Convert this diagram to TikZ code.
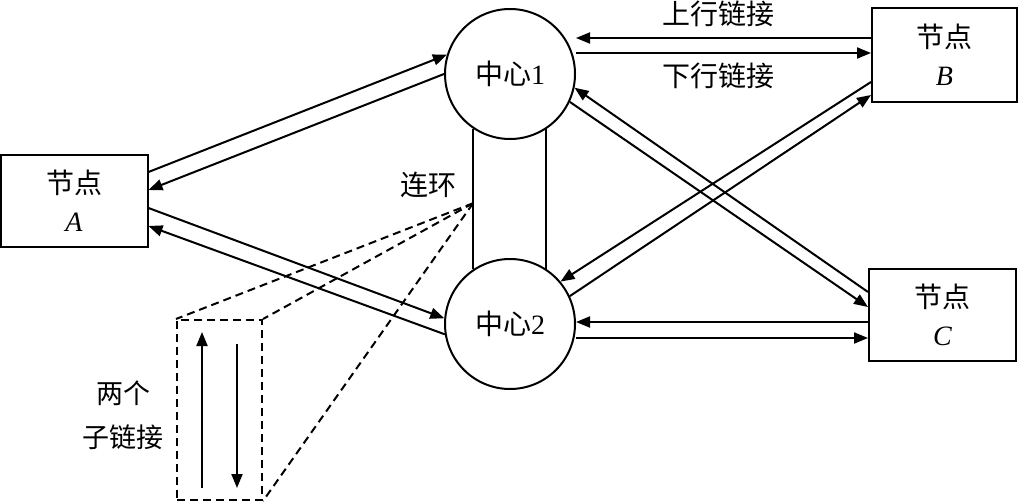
\documentclass[tikz,border=0pt]{standalone}
\usepackage{fontspec}
\setmainfont{Liberation Serif}
\newfontfamily\cjk{Noto Sans CJK SC}
\usetikzlibrary{arrows.meta,calc}
\begin{document}
\begin{tikzpicture}[x=1pt,y=-1pt,
  every node/.style={font=\fontsize{28}{38}\selectfont},
  box/.style={draw, line width=2pt, rectangle, minimum width=147pt, minimum height=92pt, inner sep=0pt, align=center},
  hub/.style={draw, line width=2pt, circle, minimum size=130pt, inner sep=0pt},
  link/.style={line width=2pt},
  arr/.style={link, -{Triangle[length=14pt,width=11pt]}},
  dsh/.style={line width=2pt, dash pattern=on 8pt off 5pt}
]
\useasboundingbox (0,0) rectangle (1019,503);
% nodes
\node[box] (A) at (74,201) {{\cjk 节点}\\\textit{A}};
\node[box, minimum width=145pt, minimum height=94pt] (B) at (944.5,55) {{\cjk 节点}\\\textit{B}};
\node[box] (C) at (942.5,315) {{\cjk 节点}\\\textit{C}};
\node[hub] (c1) at (510,74) {{\cjk 中心}1};
\node[hub] (c2) at (510,324) {{\cjk 中心}2};
% ring bars
\draw[link] (c1.236) -- (c2.124);
\draw[link] (c1.303) -- (c2.57);
\coordinate (lk) at ($(c1.236)!0.53!(c2.124)$);
% A <-> c1
\draw[arr] ([yshift=29pt]A.east) -- (c1.163);
\draw[arr] (c1.180) -- ([yshift=11pt]A.east);
% A <-> c2
\draw[arr] ([yshift=-7pt]A.east) -- (c2.175);
\draw[arr] (c2.189) -- ([yshift=-25pt]A.east);
% c1 <-> B
\coordinate (bu) at ([yshift=17pt]B.west);
\coordinate (bl) at ([yshift=2pt]B.west);
\draw[arr] (bu) -- (bu -| c1.east);
\draw[arr] (bl -| c1.east) -- (bl);
% c1 <-> C
\draw[arr] ([yshift=23pt]C.west) -- (c1.348);
\draw[arr] (c1.335) -- ([yshift=8pt]C.west);
% c2 <-> B
\draw[arr] ([yshift=-27pt]B.west) -- (c2.40);
\draw[arr] (c2.25) -- ([yshift=-40pt]B.west);
% c2 <-> C
\coordinate (cu) at ([yshift=-7pt]C.west);
\coordinate (cl) at ([yshift=-23pt]C.west);
\draw[arr] (cu) -- (cu -| c2.east);
\draw[arr] (cl -| c2.east) -- (cl);
% labels
\node (up) at (718,14) {\cjk 上行链接};
\node (down) at (718,76) {\cjk 下行链接};
\node (ring) at (428,185) {\cjk 连环};
\node[align=center, font=\cjk\fontsize{27}{44}\selectfont] (two) at (123,415) {两个\\子链接};
% sub-link box
\node[draw, dsh, minimum width=85pt, minimum height=180pt, inner sep=0pt] (sub) at (219.5,410) {};
\draw[dsh] (lk) -- (sub.north west);
\draw[dsh] (lk) -- (sub.north east);
\draw[dsh] (lk) -- (sub.south east);
\draw[arr] ([xshift=-17.5pt,yshift=13pt]sub.south) -- ([xshift=-17.5pt,yshift=-13pt]sub.north);
\draw[arr] ([xshift=17.5pt,yshift=-25pt]sub.north) -- ([xshift=17.5pt,yshift=13pt]sub.south);
\end{tikzpicture}
\end{document}
